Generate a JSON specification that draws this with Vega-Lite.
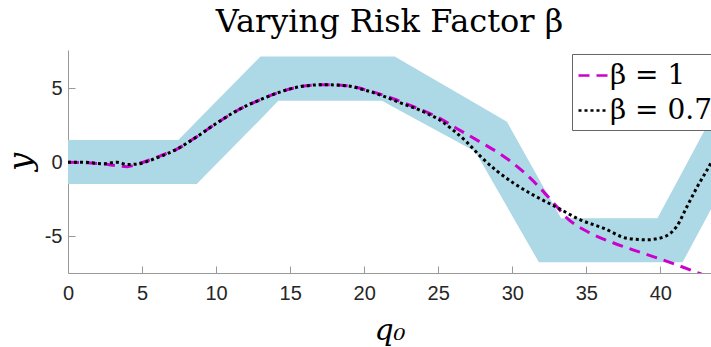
{
  "$schema": "https://vega.github.io/schema/vega-lite/v6.json",
  "width": 643,
  "height": 223,
  "autosize": {"type": "none"},
  "padding": {"left": 68, "top": 50, "right": 0, "bottom": 74},
  "background": "white",
  "title": {
    "text": "Varying Risk Factor β",
    "font": "DejaVu Serif",
    "fontSize": 32,
    "fontWeight": "normal",
    "color": "black",
    "anchor": "middle",
    "baseline": "alphabetic",
    "offset": -14
  },
  "config": {
    "view": {"stroke": null},
    "axis": {
      "grid": false,
      "domainColor": "#999999",
      "tickColor": "#999999",
      "tickSize": -7,
      "labelFlush": false,
      "labelFont": "Liberation Sans",
      "labelFontSize": 20,
      "labelColor": "#262626",
      "titleFont": "DejaVu Serif",
      "titleFontStyle": "italic",
      "titleFontWeight": "normal",
      "titleFontSize": 30,
      "titleColor": "black"
    },
    "legend": {
      "labelFont": "DejaVu Serif",
      "labelFontSize": 28,
      "labelColor": "black"
    }
  },
  "datasets": {
    "band": [
      {"x": 0, "lo": -1.48, "hi": 1.5},
      {"x": 7.45, "lo": -1.48, "hi": 1.5},
      {"x": 8.69, "lo": -1.48, "hi": 2.77},
      {"x": 13.0, "lo": 2.91, "hi": 7.16},
      {"x": 14.2, "lo": 4.16, "hi": 7.16},
      {"x": 21.2, "lo": 4.16, "hi": 7.16},
      {"x": 22.06, "lo": 3.69, "hi": 7.16},
      {"x": 27.5, "lo": 0.72, "hi": 3.99},
      {"x": 29.64, "lo": -3.0, "hi": 2.74},
      {"x": 31.8, "lo": -6.78, "hi": -1.13},
      {"x": 33.3, "lo": -6.78, "hi": -3.8},
      {"x": 39.8, "lo": -6.78, "hi": -3.8},
      {"x": 41.5, "lo": -6.78, "hi": -0.62},
      {"x": 43.5, "lo": -3.04, "hi": 3.12}
    ],
    "curves": [
      {"s": "β = 1", "x": 0, "y": 0},
      {"s": "β = 1", "x": 1.0, "y": -0.02},
      {"s": "β = 1", "x": 2.4, "y": -0.12},
      {"s": "β = 1", "x": 3.4, "y": -0.25},
      {"s": "β = 1", "x": 4.0, "y": -0.3},
      {"s": "β = 1", "x": 4.7, "y": -0.12},
      {"s": "β = 1", "x": 5.5, "y": 0.15},
      {"s": "β = 1", "x": 6.2, "y": 0.42},
      {"s": "β = 1", "x": 7.3, "y": 0.86},
      {"s": "β = 1", "x": 8.7, "y": 1.73},
      {"s": "β = 1", "x": 10.0, "y": 2.62},
      {"s": "β = 1", "x": 11.4, "y": 3.49},
      {"s": "β = 1", "x": 13.0, "y": 4.24},
      {"s": "β = 1", "x": 14.3, "y": 4.75},
      {"s": "β = 1", "x": 15.7, "y": 5.12},
      {"s": "β = 1", "x": 17.25, "y": 5.25},
      {"s": "β = 1", "x": 18.8, "y": 5.18},
      {"s": "β = 1", "x": 20.4, "y": 4.82},
      {"s": "β = 1", "x": 21.96, "y": 4.3},
      {"s": "β = 1", "x": 23.5, "y": 3.69},
      {"s": "β = 1", "x": 24.9, "y": 3.08},
      {"s": "β = 1", "x": 26.25, "y": 2.29},
      {"s": "β = 1", "x": 27.8, "y": 1.39},
      {"s": "β = 1", "x": 29.2, "y": 0.55},
      {"s": "β = 1", "x": 30.5, "y": -0.43},
      {"s": "β = 1", "x": 31.67, "y": -1.53},
      {"s": "β = 1", "x": 32.8, "y": -2.77},
      {"s": "β = 1", "x": 33.7, "y": -3.78},
      {"s": "β = 1", "x": 35.27, "y": -4.8},
      {"s": "β = 1", "x": 36.85, "y": -5.47},
      {"s": "β = 1", "x": 38.65, "y": -6.1},
      {"s": "β = 1", "x": 40.45, "y": -6.71},
      {"s": "β = 1", "x": 42.7, "y": -7.55},
      {"s": "β = 1", "x": 43.6, "y": -7.9},
      {"s": "β = 0.7", "x": 0, "y": 0},
      {"s": "β = 0.7", "x": 1.0, "y": 0},
      {"s": "β = 0.7", "x": 2.4, "y": -0.1},
      {"s": "β = 0.7", "x": 3.3, "y": 0.0},
      {"s": "β = 0.7", "x": 4.0, "y": -0.15},
      {"s": "β = 0.7", "x": 4.6, "y": -0.13},
      {"s": "β = 0.7", "x": 6.0, "y": 0.3},
      {"s": "β = 0.7", "x": 7.3, "y": 0.86},
      {"s": "β = 0.7", "x": 8.7, "y": 1.73},
      {"s": "β = 0.7", "x": 10.0, "y": 2.62},
      {"s": "β = 0.7", "x": 11.4, "y": 3.49},
      {"s": "β = 0.7", "x": 13.0, "y": 4.24},
      {"s": "β = 0.7", "x": 14.3, "y": 4.75},
      {"s": "β = 0.7", "x": 15.7, "y": 5.12},
      {"s": "β = 0.7", "x": 17.25, "y": 5.25},
      {"s": "β = 0.7", "x": 18.8, "y": 5.18},
      {"s": "β = 0.7", "x": 20.0, "y": 4.9},
      {"s": "β = 0.7", "x": 21.1, "y": 4.55},
      {"s": "β = 0.7", "x": 22.5, "y": 4.0},
      {"s": "β = 0.7", "x": 24.0, "y": 3.42},
      {"s": "β = 0.7", "x": 25.1, "y": 2.86},
      {"s": "β = 0.7", "x": 26.0, "y": 2.18},
      {"s": "β = 0.7", "x": 26.9, "y": 1.39},
      {"s": "β = 0.7", "x": 27.8, "y": 0.45},
      {"s": "β = 0.7", "x": 28.95, "y": -0.58},
      {"s": "β = 0.7", "x": 30.1, "y": -1.42},
      {"s": "β = 0.7", "x": 31.4, "y": -2.21},
      {"s": "β = 0.7", "x": 33.0, "y": -3.05},
      {"s": "β = 0.7", "x": 34.6, "y": -3.9},
      {"s": "β = 0.7", "x": 36.2, "y": -4.48},
      {"s": "β = 0.7", "x": 37.75, "y": -5.15},
      {"s": "β = 0.7", "x": 39.1, "y": -5.25},
      {"s": "β = 0.7", "x": 40.2, "y": -5.07},
      {"s": "β = 0.7", "x": 41.1, "y": -4.35},
      {"s": "β = 0.7", "x": 41.8, "y": -3.0},
      {"s": "β = 0.7", "x": 42.5, "y": -1.65},
      {"s": "β = 0.7", "x": 43.4, "y": -0.09},
      {"s": "β = 0.7", "x": 43.6, "y": 0.3}
    ]
  },
  "layer": [
    {
      "data": {"name": "band"},
      "mark": {"type": "area", "color": "#ADD8E6", "opacity": 1, "clip": true},
      "encoding": {
        "x": {
          "field": "x",
          "type": "quantitative",
          "scale": {"domain": [0, 43.42], "nice": false, "zero": false},
          "axis": {"values": [0, 5, 10, 15, 20, 25, 30, 35, 40], "title": "q₀", "labelPadding": 17, "titlePadding": 12}
        },
        "y": {
          "field": "lo",
          "type": "quantitative",
          "scale": {"domain": [-7.5, 7.6], "nice": false, "zero": false},
          "axis": {"values": [-5, 0, 5], "title": "y", "labelExpr": "toString(datum.value)", "labelPadding": 13, "titlePadding": 7, "titleFontSize": 32}
        },
        "y2": {"field": "hi"}
      }
    },
    {
      "data": {"name": "curves"},
      "mark": {"type": "line", "strokeWidth": 3, "strokeCap": "butt", "interpolate": "monotone", "clip": true},
      "encoding": {
        "x": {"field": "x", "type": "quantitative"},
        "y": {"field": "y", "type": "quantitative"},
        "color": {
          "field": "s",
          "type": "nominal",
          "scale": {"domain": ["β = 1", "β = 0.7"], "range": ["#CC00CC", "#000000"]},
          "legend": {
            "title": null,
            "orient": "none",
            "legendX": 504,
            "legendY": 4,
            "direction": "vertical",
            "fillColor": "white",
            "strokeColor": "#666666",
            "padding": 5,
            "rowPadding": 4,
            "symbolType": "stroke",
            "symbolSize": 900,
            "symbolStrokeWidth": 2.5,
            "labelOffset": 0
          }
        },
        "strokeDash": {
          "field": "s",
          "type": "nominal",
          "scale": {"domain": ["β = 1", "β = 0.7"], "range": [[11, 7], [3, 3]]},
          "legend": {
            "title": null,
            "orient": "none",
            "legendX": 504,
            "legendY": 4,
            "direction": "vertical",
            "fillColor": "white",
            "strokeColor": "#666666",
            "padding": 5,
            "rowPadding": 4,
            "symbolType": "stroke",
            "symbolSize": 900,
            "symbolStrokeWidth": 2.5,
            "labelOffset": 0
          }
        }
      }
    }
  ]
}
